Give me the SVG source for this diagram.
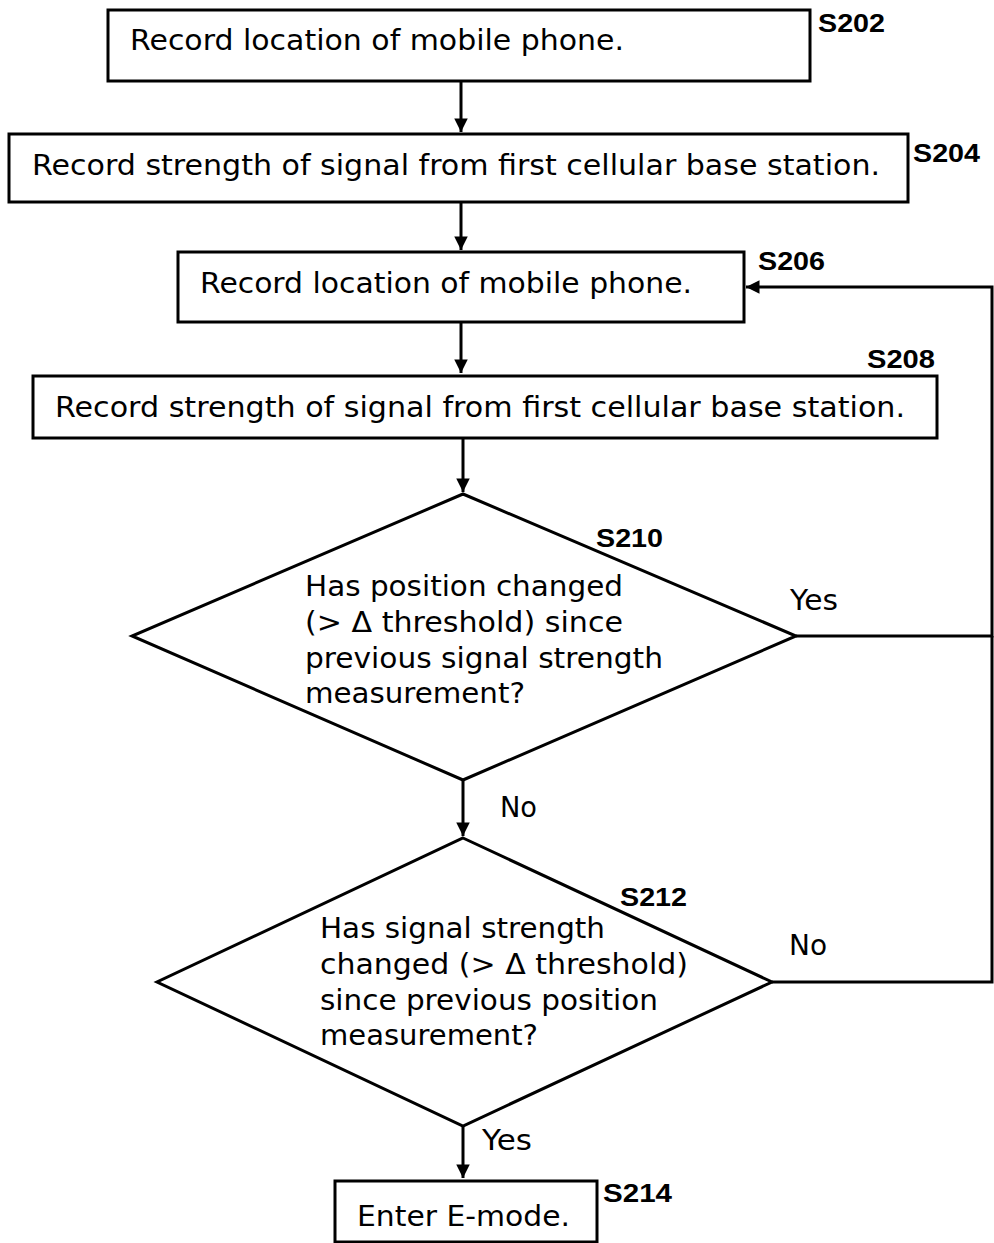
<svg xmlns="http://www.w3.org/2000/svg" width="994" height="1243" viewBox="0 0 994 1243">
<defs>
<style>
.box{fill:#fff;stroke:#000;stroke-width:3}
.t{font-family:"DejaVu Sans",Verdana,sans-serif;font-size:28px;fill:#000}
.lab{font-family:"Liberation Sans",Arial,sans-serif;font-weight:bold;font-size:26px;fill:#000}
.ln{fill:none;stroke:#000;stroke-width:3}
</style>
<marker id="ah" viewBox="0 0 10 10" refX="10" refY="5" markerWidth="5" markerHeight="4.5" orient="auto" markerUnits="strokeWidth">
<path d="M0,0 L10,5 L0,10 z" fill="#000"/>
</marker>
</defs>
<rect width="994" height="1243" fill="#fff"/>
<g id="connectors">
<path class="ln" d="M461,82 V132" marker-end="url(#ah)"/>
<path class="ln" d="M461,202 V250" marker-end="url(#ah)"/>
<path class="ln" d="M461,322 V373" marker-end="url(#ah)"/>
<path class="ln" d="M463,438 V492" marker-end="url(#ah)"/>
<path class="ln" d="M463,780 V836" marker-end="url(#ah)"/>
<path class="ln" d="M463,1126 V1178" marker-end="url(#ah)"/>
<path class="ln" d="M796,636 H992 V287 H746" marker-end="url(#ah)"/>
<path class="ln" d="M772,982 H992 V636"/>
<text class="t" x="790" y="610" textLength="48" lengthAdjust="spacingAndGlyphs">Yes</text>
<text class="t" x="500" y="817" textLength="37" lengthAdjust="spacingAndGlyphs">No</text>
<text class="t" x="789" y="955" textLength="38" lengthAdjust="spacingAndGlyphs">No</text>
<text class="t" x="482" y="1150" textLength="50" lengthAdjust="spacingAndGlyphs">Yes</text>
</g>
<g id="S202">
<rect class="box" x="108" y="10" width="702" height="71"/>
<text class="t" x="130" y="50" textLength="494" lengthAdjust="spacingAndGlyphs">Record location of mobile phone.</text>
<text class="lab" x="818" y="32" textLength="67" lengthAdjust="spacingAndGlyphs">S202</text>
</g>
<g id="S204">
<rect class="box" x="9" y="134" width="899" height="68"/>
<text class="t" x="32" y="175" textLength="848" lengthAdjust="spacingAndGlyphs">Record strength of signal from first cellular base station.</text>
<text class="lab" x="913" y="162" textLength="67" lengthAdjust="spacingAndGlyphs">S204</text>
</g>
<g id="S206">
<rect class="box" x="178" y="252" width="566" height="70"/>
<text class="t" x="200" y="293" textLength="492" lengthAdjust="spacingAndGlyphs">Record location of mobile phone.</text>
<text class="lab" x="758" y="270" textLength="67" lengthAdjust="spacingAndGlyphs">S206</text>
</g>
<g id="S208">
<rect class="box" x="33" y="376" width="904" height="62"/>
<text class="t" x="55" y="417" textLength="850" lengthAdjust="spacingAndGlyphs">Record strength of signal from first cellular base station.</text>
<text class="lab" x="867" y="368" textLength="68" lengthAdjust="spacingAndGlyphs">S208</text>
</g>
<g id="S210">
<polygon class="box" points="463,494 796,636 463,780 132,636"/>
<text class="t" x="305" y="596" textLength="318" lengthAdjust="spacingAndGlyphs">Has position changed</text>
<text class="t" x="305" y="632" textLength="318" lengthAdjust="spacingAndGlyphs">(&gt; Δ threshold) since</text>
<text class="t" x="305" y="668" textLength="358" lengthAdjust="spacingAndGlyphs">previous signal strength</text>
<text class="t" x="305" y="703" textLength="220" lengthAdjust="spacingAndGlyphs">measurement?</text>
<text class="lab" x="596" y="547" textLength="67" lengthAdjust="spacingAndGlyphs">S210</text>
</g>
<g id="S212">
<polygon class="box" points="463,838 772,982 463,1126 157,982"/>
<text class="t" x="320" y="938" textLength="285" lengthAdjust="spacingAndGlyphs">Has signal strength</text>
<text class="t" x="320" y="974" textLength="368" lengthAdjust="spacingAndGlyphs">changed (&gt; Δ threshold)</text>
<text class="t" x="320" y="1010" textLength="338" lengthAdjust="spacingAndGlyphs">since previous position</text>
<text class="t" x="320" y="1045" textLength="218" lengthAdjust="spacingAndGlyphs">measurement?</text>
<text class="lab" x="620" y="906" textLength="67" lengthAdjust="spacingAndGlyphs">S212</text>
</g>
<g id="S214">
<rect class="box" x="335" y="1181" width="262" height="61"/>
<text class="t" x="357" y="1226" textLength="213" lengthAdjust="spacingAndGlyphs">Enter E-mode.</text>
<text class="lab" x="603" y="1202" textLength="69" lengthAdjust="spacingAndGlyphs">S214</text>
</g>
</svg>
